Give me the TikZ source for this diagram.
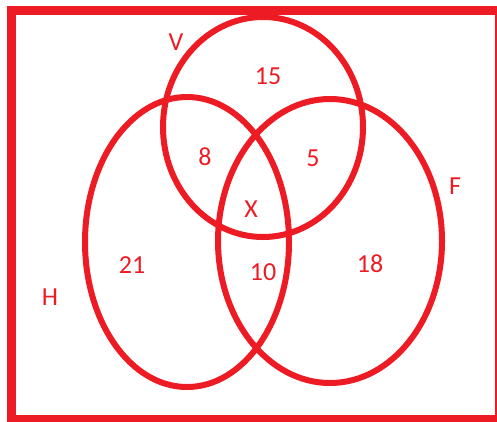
\documentclass[tikz,border=0pt]{standalone}
\usepackage{fontspec}
\setmainfont{Carlito}
\definecolor{paintred}{HTML}{ED1C24}
\begin{document}
\begin{tikzpicture}[x=1pt,y=-1pt,
  set/.style={draw=paintred,line width=6pt},
  lbl/.style={text=paintred,font=\fontsize{26}{26}\selectfont,inner sep=0pt}]
\useasboundingbox (0,0) rectangle (497,421);
\draw[paintred,line width=9.5pt] (11.5,10.5) rectangle (500,420);
\draw[set] (263,127) ellipse (100 and 110);
\draw[set] (187,242) ellipse (102 and 145);
\draw[set] (330,241) ellipse (112 and 142);
\node[lbl] (setV) at (176,42) {V};
\node[lbl] (setF) at (455,186) {F};
\node[lbl] (setH) at (50,297) {H};
\node[lbl] (onlyV) at (268,76) {15};
\node[lbl] (VH) at (205,157) {8};
\node[lbl] (VF) at (313,158) {5};
\node[lbl] (VHF) at (251,209) {X};
\node[lbl] (onlyH) at (132,265) {21};
\node[lbl] (HF) at (263,272) {10};
\node[lbl] (onlyF) at (370,264) {18};
\end{tikzpicture}
\end{document}
